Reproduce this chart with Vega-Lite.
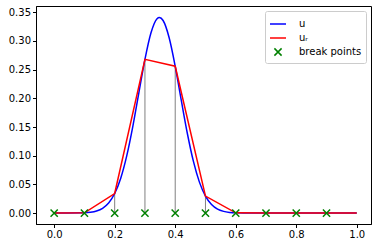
{
  "$schema": "https://vega.github.io/schema/vega-lite/v6.json",
  "width": 335,
  "height": 218,
  "padding": {"left": 36, "top": 6, "right": 7, "bottom": 24},
  "autosize": {"type": "none"},
  "config": {
    "font": "DejaVu Sans",
    "view": {"stroke": "#000000", "strokeWidth": 1},
    "axis": {
      "domainColor": "#000000", "tickColor": "#000000", "tickSize": 3.5,
      "labelFontSize": 10, "labelColor": "#000000", "labelPadding": 2,
      "grid": false, "title": null, "labelFont": "DejaVu Sans", "labelOverlap": false
    },
    "legend": {
      "symbolSize": 256, "symbolStrokeWidth": 1.5, "labelFontSize": 10,
      "labelColor": "#000000", "labelFont": "DejaVu Sans", "rowPadding": 0,
      "padding": 4, "labelOffset": 12, "strokeColor": "#cccccc",
      "fillColor": "rgba(255,255,255,0.8)", "cornerRadius": 2
    }
  },
  "datasets": {
    "u": [
      {"x": 0.0, "y": 0.0, "series": "u"},
      {"x": 0.1, "y": 0.0005, "series": "u"},
      {"x": 0.12, "y": 0.0014, "series": "u"},
      {"x": 0.14, "y": 0.0036, "series": "u"},
      {"x": 0.16, "y": 0.0083, "series": "u"},
      {"x": 0.18, "y": 0.0175, "series": "u"},
      {"x": 0.2, "y": 0.0341, "series": "u"},
      {"x": 0.22, "y": 0.0609, "series": "u"},
      {"x": 0.24, "y": 0.1002, "series": "u"},
      {"x": 0.26, "y": 0.1513, "series": "u"},
      {"x": 0.28, "y": 0.2101, "series": "u"},
      {"x": 0.3, "y": 0.268, "series": "u"},
      {"x": 0.32, "y": 0.3143, "series": "u"},
      {"x": 0.34, "y": 0.3388, "series": "u"},
      {"x": 0.348, "y": 0.341, "series": "u"},
      {"x": 0.36, "y": 0.3357, "series": "u"},
      {"x": 0.38, "y": 0.3057, "series": "u"},
      {"x": 0.4, "y": 0.256, "series": "u"},
      {"x": 0.42, "y": 0.1968, "series": "u"},
      {"x": 0.44, "y": 0.1392, "series": "u"},
      {"x": 0.46, "y": 0.0905, "series": "u"},
      {"x": 0.48, "y": 0.054, "series": "u"},
      {"x": 0.5, "y": 0.0297, "series": "u"},
      {"x": 0.52, "y": 0.015, "series": "u"},
      {"x": 0.54, "y": 0.0069, "series": "u"},
      {"x": 0.56, "y": 0.003, "series": "u"},
      {"x": 0.58, "y": 0.0012, "series": "u"},
      {"x": 0.6, "y": 0.0004, "series": "u"},
      {"x": 0.65, "y": 0.0, "series": "u"},
      {"x": 1.0, "y": 0.0, "series": "u"}
    ],
    "ur": [
      {"x": 0.0, "y": 0.0, "series": "uᵣ"},
      {"x": 0.1, "y": 0.0005, "series": "uᵣ"},
      {"x": 0.2, "y": 0.0341, "series": "uᵣ"},
      {"x": 0.3, "y": 0.268, "series": "uᵣ"},
      {"x": 0.4, "y": 0.256, "series": "uᵣ"},
      {"x": 0.5, "y": 0.0297, "series": "uᵣ"},
      {"x": 0.6, "y": 0.0004, "series": "uᵣ"},
      {"x": 0.7, "y": 0.0, "series": "uᵣ"},
      {"x": 0.8, "y": 0.0, "series": "uᵣ"},
      {"x": 0.9, "y": 0.0, "series": "uᵣ"},
      {"x": 1.0, "y": 0.0, "series": "uᵣ"}
    ],
    "bp": [
      {"x": 0.0, "v": 0.0, "base": 0, "series": "break points"},
      {"x": 0.1, "v": 0.0005, "base": 0, "series": "break points"},
      {"x": 0.2, "v": 0.0341, "base": 0, "series": "break points"},
      {"x": 0.3, "v": 0.268, "base": 0, "series": "break points"},
      {"x": 0.4, "v": 0.256, "base": 0, "series": "break points"},
      {"x": 0.5, "v": 0.0297, "base": 0, "series": "break points"},
      {"x": 0.6, "v": 0.0004, "base": 0, "series": "break points"},
      {"x": 0.7, "v": 0.0, "base": 0, "series": "break points"},
      {"x": 0.8, "v": 0.0, "base": 0, "series": "break points"},
      {"x": 0.9, "v": 0.0, "base": 0, "series": "break points"}
    ]
  },
  "layer": [
    {
      "data": {"name": "bp"},
      "mark": {"type": "rule", "color": "#808080", "strokeWidth": 1},
      "encoding": {
        "x": {"field": "x", "type": "quantitative", "scale": {"domain": [-0.06, 1.047], "nice": false, "zero": false},
              "axis": {"values": [0, 0.2, 0.4, 0.6, 0.8, 1.0], "format": ".1f"}},
        "y": {"field": "v", "type": "quantitative", "scale": {"domain": [-0.019, 0.361], "nice": false, "zero": false},
              "axis": {"values": [0, 0.05, 0.1, 0.15, 0.2, 0.25, 0.3, 0.35], "format": ".2f", "tickCount": 8}},
        "y2": {"field": "base"}
      }
    },
    {
      "data": {"name": "u"},
      "mark": {"type": "line", "strokeWidth": 1.5, "interpolate": "monotone"},
      "encoding": {
        "x": {"field": "x", "type": "quantitative",
              "axis": {"values": [0, 0.2, 0.4, 0.6, 0.8, 1.0], "format": ".1f"}},
        "y": {"field": "y", "type": "quantitative",
              "axis": {"values": [0, 0.05, 0.1, 0.15, 0.2, 0.25, 0.3, 0.35], "format": ".2f", "tickCount": 8}},
        "color": {"field": "series", "type": "nominal",
                  "scale": {"domain": ["u", "uᵣ", "break points"], "range": ["#0000ff", "#ff0000", "#008000"]},
                  "legend": {"title": null, "orient": "top-right", "offset": 5}}
      }
    },
    {
      "data": {"name": "ur"},
      "mark": {"type": "line", "strokeWidth": 1.5},
      "encoding": {
        "x": {"field": "x", "type": "quantitative",
              "axis": {"values": [0, 0.2, 0.4, 0.6, 0.8, 1.0], "format": ".1f"}},
        "y": {"field": "y", "type": "quantitative",
              "axis": {"values": [0, 0.05, 0.1, 0.15, 0.2, 0.25, 0.3, 0.35], "format": ".2f", "tickCount": 8}},
        "color": {"field": "series", "type": "nominal"}
      }
    },
    {
      "data": {"name": "bp"},
      "mark": {"type": "point", "filled": false, "size": 256, "strokeWidth": 1.5, "opacity": 1},
      "encoding": {
        "x": {"field": "x", "type": "quantitative",
              "axis": {"values": [0, 0.2, 0.4, 0.6, 0.8, 1.0], "format": ".1f"}},
        "y": {"field": "base", "type": "quantitative",
              "axis": {"values": [0, 0.05, 0.1, 0.15, 0.2, 0.25, 0.3, 0.35], "format": ".2f", "tickCount": 8}},
        "color": {"field": "series", "type": "nominal"},
        "shape": {"field": "series", "type": "nominal",
                  "scale": {"domain": ["u", "uᵣ", "break points"], "range": ["stroke", "stroke", "M-0.45,-0.45L0.45,0.45M0.45,-0.45L-0.45,0.45"]},
                  "legend": {"title": null, "orient": "top-right", "offset": 5}}
      }
    }
  ]
}
